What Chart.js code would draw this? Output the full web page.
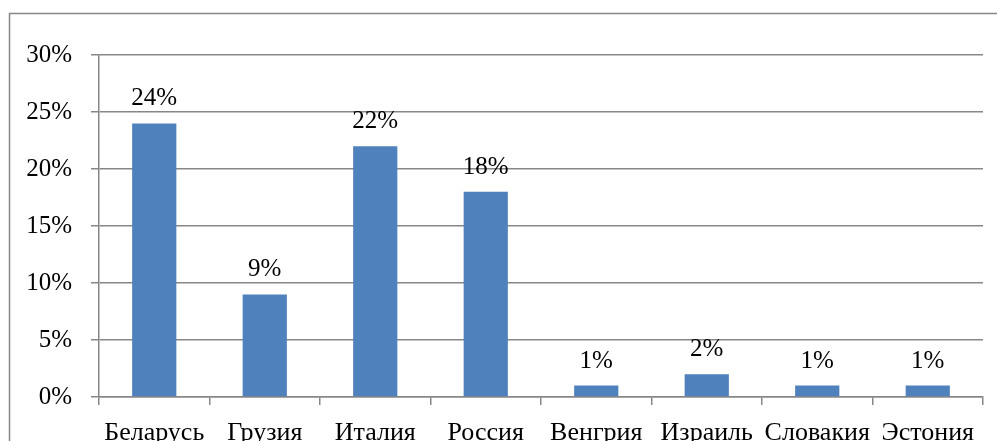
<!DOCTYPE html>
<html><head><meta charset="utf-8">
<script src="https://cdn.jsdelivr.net/npm/chart.js@4/dist/chart.umd.min.js"></script>
<style>html,body{margin:0;padding:0;background:#fff;overflow:hidden}</style>
</head><body>
<canvas id="c" width="997" height="441"></canvas>
<script>
const categories = ["Беларусь","Грузия","Италия","Россия","Венгрия","Израиль","Словакия","Эстония"];
const values = [24, 9, 22, 18, 1, 2, 1, 1];
const yTicks = [0,5,10,15,20,25,30];
const FONT = "'Liberation Serif', 'Times New Roman', serif";

const borderPlugin = {
  id: 'outerBorder',
  beforeDraw(chart) {
    const ctx = chart.ctx;
    ctx.save();
    ctx.strokeStyle = '#878787';
    ctx.lineWidth = 1.5;
    ctx.strokeRect(9.5, 13.5, 2000, 1000);
    ctx.restore();
  }
};
const labelPlugin = {
  id: 'valueLabels',
  afterDatasetsDraw(chart) {
    const ctx = chart.ctx;
    const meta = chart.getDatasetMeta(0);
    ctx.save();
    ctx.font = '25px ' + FONT;
    ctx.fillStyle = '#000';
    ctx.textAlign = 'center';
    ctx.textBaseline = 'alphabetic';
    meta.data.forEach((bar, i) => {
      ctx.fillText(values[i] + '%', bar.x, bar.y - 18);
    });
    ctx.restore();
  }
};

new Chart(document.getElementById('c'), {
  type: 'bar',
  data: { labels: categories, datasets: [{ data: values, backgroundColor: '#4F81BD', barPercentage: 0.4, categoryPercentage: 1 }] },
  options: {
    responsive: false, animation: false,
    layout: { padding: { left: 0, right: 14, top: 55, bottom: 0 } },
    plugins: { legend: { display: false }, tooltip: { enabled: false } },
    scales: {
      y: {
        min: 0, max: 30,
        afterFit(s) { s.width = 99; },
        afterBuildTicks(s) { s.ticks = yTicks.map(v => ({ value: v })); },
        ticks: { stepSize: 5, callback: v => v + '%', color: '#000', font: { family: FONT, size: 25 }, padding: 19 },
        grid: { color: '#878787', lineWidth: 1.5, tickLength: 8, drawTicks: true },
        border: { color: '#878787', width: 1.5 }
      },
      x: {
        afterFit(s) { s.height = 44; },
        ticks: { color: '#000', font: { family: FONT, size: 26 }, padding: 13, maxRotation: 0, autoSkip: false },
        grid: { drawOnChartArea: false, drawTicks: true, tickLength: 8, color: '#878787', lineWidth: 1.5, offset: true },
        border: { color: '#878787', width: 1.5 }
      }
    }
  },
  plugins: [borderPlugin, labelPlugin]
});
</script>
</body></html>
